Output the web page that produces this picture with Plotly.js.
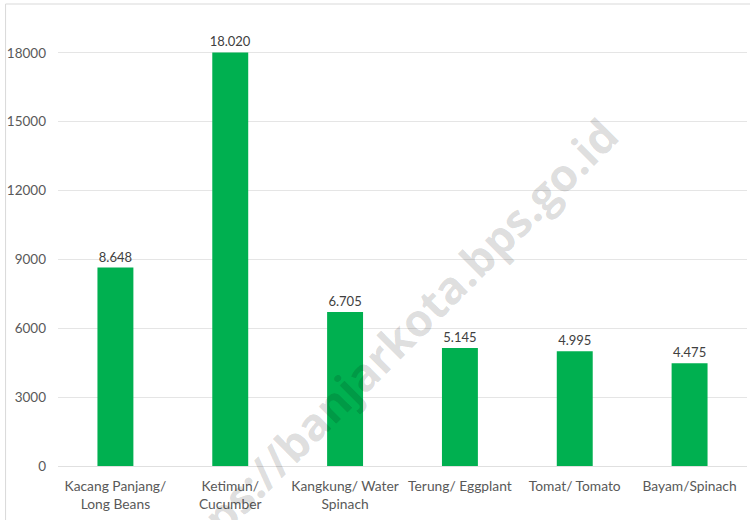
<!DOCTYPE html>
<html>
<head>
<meta charset="utf-8">
<script src="https://cdn.plot.ly/plotly-3.0.1.min.js"></script>
<style>
  html, body { margin: 0; padding: 0; background: #fff; }
  #chart { width: 750px; height: 520px; }
</style>
</head>
<body>
<div id="chart"></div>
<script>
const categories = [
  "Kacang Panjang/<br>Long Beans",
  "Ketimun/<br>Cucumber",
  "Kangkung/ Water<br>Spinach",
  "Terung/ Eggplant",
  "Tomat/ Tomato",
  "Bayam/Spinach"
];
const production = [8648, 18020, 6705, 5145, 4995, 4475];
const yTicks = [0, 3000, 6000, 9000, 12000, 15000, 18000];
const watermarkText = "https://banjarkota.bps.go.id";

// pixel -> paper helpers (plot area: x 57.5..747.5, y 7..466)
const L = 57.5, W = 690, T = 7, H = 459;
const px = x => (x - L) / W;
const py = y => (T + H - y) / H;

const trace = {
  type: "bar",
  x: categories,
  y: production,
  marker: { color: "#00B050" },
  texttemplate: "%{y:,}",
  textposition: "outside",
  constraintext: "none",
  cliponaxis: false,
  textfont: { family: "Lato, sans-serif", size: 13, color: "#404040" },
  hoverinfo: "x+y"
};

const layout = {
  width: 750,
  height: 520,
  margin: { l: L, r: 750 - L - W, t: T, b: 520 - T - H },
  paper_bgcolor: "#ffffff",
  plot_bgcolor: "#ffffff",
  separators: ",.",
  bargap: 0.687,
  showlegend: false,
  font: { family: "Lato, sans-serif", size: 14, color: "#595959" },
  xaxis: {
    type: "category",
    showgrid: false,
    showline: false,
    zeroline: false,
    ticks: "",
    ticklabelstandoff: 10,
    tickfont: { family: "Lato, sans-serif", size: 13.8, color: "#595959" },
    fixedrange: true
  },
  yaxis: {
    range: [0, 20000],
    tickvals: yTicks,
    tickformat: "d",
    showgrid: true,
    gridcolor: "#e5e5e5",
    gridwidth: 1,
    zeroline: true,
    zerolinecolor: "#e0e0e0",
    zerolinewidth: 1,
    showline: false,
    ticks: "",
    ticklabelstandoff: 11,
    tickfont: { family: "Lato, sans-serif", size: 13.5, color: "#595959" },
    fixedrange: true
  },
  annotations: [
    {
      xref: "paper", yref: "paper",
      x: px(386), y: py(350),
      xanchor: "center", yanchor: "middle",
      showarrow: false,
      textangle: -45,
      text: watermarkText,
      font: { family: "Open Sans, sans-serif", size: 45, color: "rgba(0,0,0,0.14)", weight: "bold" }
    }
  ],
  shapes: [
    {
      type: "line", xref: "paper", yref: "paper", layer: "above",
      x0: px(5), y0: py(4), x1: px(5), y1: py(521),
      line: { color: "#d9d9d9", width: 1 }
    },
    {
      type: "line", xref: "paper", yref: "paper", layer: "above",
      x0: px(5), y0: py(4), x1: px(751), y1: py(4),
      line: { color: "#d9d9d9", width: 1 }
    }
  ]
};

Plotly.newPlot("chart", [trace], layout, { displayModeBar: false, staticPlot: true });
</script>
</body>
</html>
